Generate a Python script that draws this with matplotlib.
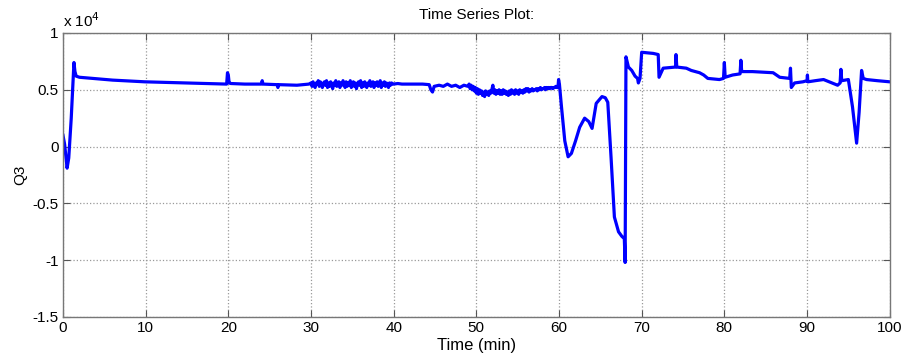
import numpy as np
import matplotlib
matplotlib.use('Agg')
import matplotlib.pyplot as plt
from matplotlib.ticker import FuncFormatter

plt.rcParams['font.family'] = ['Liberation Sans', 'DejaVu Sans']

# Q3 trace, values in units of 1e4
t_start = [0.0, 0.2, 0.5, 0.7, 1.0, 1.33, 1.45, 1.6, 2.0, 3.6, 6.0, 9.9, 15.0,
           19.8, 19.9, 20.0, 20.1, 20.3, 22.0, 24.0, 24.1, 24.2, 25.9, 26.0,
           26.1, 28.3, 29.75]
q_start = [0.10, 0.02, -0.19, -0.10, 0.25, 0.74, 0.66, 0.62, 0.61, 0.60, 0.585,
           0.57, 0.56, 0.55, 0.65, 0.63, 0.56, 0.555, 0.55, 0.55, 0.58, 0.55,
           0.545, 0.52, 0.545, 0.54, 0.55]

t_noisy1 = list(np.arange(30.0, 40.001, 0.125))
q_noisy1 = [0.56, 0.53, 0.57, 0.54, 0.52, 0.56, 0.55, 0.58, 0.53, 0.57, 0.56, 0.52, 0.55, 0.57, 0.54, 0.58, 0.52, 0.56, 0.53, 0.57,
            0.55, 0.51, 0.56, 0.54, 0.58, 0.53, 0.55, 0.57, 0.52, 0.56, 0.54, 0.58, 0.55, 0.52, 0.57, 0.53, 0.56, 0.54, 0.58, 0.52,
            0.55, 0.57, 0.53, 0.56, 0.51, 0.55, 0.57, 0.54, 0.58, 0.52, 0.56, 0.53, 0.57, 0.55, 0.52, 0.56, 0.54, 0.58, 0.53, 0.55,
            0.57, 0.52, 0.56, 0.54, 0.57, 0.53, 0.55, 0.58, 0.52, 0.56, 0.54, 0.57, 0.53, 0.56, 0.55, 0.52, 0.56, 0.54, 0.56, 0.55, 0.55]

t_mid = [40.5, 41.0, 42.0, 43.0, 43.5, 44.3, 44.5, 44.7, 44.9, 45.5, 46.0,
         46.5, 47.0, 47.5, 48.0, 48.5, 49.0]
q_mid = [0.555, 0.55, 0.55, 0.55, 0.55, 0.545, 0.50, 0.48, 0.53, 0.54, 0.53,
         0.55, 0.53, 0.54, 0.52, 0.54, 0.53]

t_noisy2 = list(np.arange(49.125, 59.876, 0.125))
q_noisy2 = [0.55, 0.51, 0.54, 0.50, 0.53, 0.49, 0.52, 0.47,
            0.51, 0.46, 0.50, 0.47, 0.49, 0.45, 0.48, 0.44,
            0.49, 0.46, 0.48, 0.45, 0.49, 0.47, 0.50, 0.54,
            0.47, 0.50, 0.46, 0.49, 0.47, 0.50, 0.46, 0.49,
            0.46, 0.50, 0.47, 0.49, 0.46, 0.48, 0.45, 0.49,
            0.46, 0.50, 0.47, 0.49, 0.46, 0.50, 0.47, 0.49,
            0.46, 0.50, 0.48, 0.49, 0.47, 0.50, 0.48, 0.51,
            0.49, 0.51, 0.48, 0.50, 0.49, 0.51, 0.49, 0.50,
            0.50, 0.51, 0.49, 0.51, 0.50, 0.52, 0.50, 0.51,
            0.51, 0.52, 0.50, 0.52, 0.51, 0.52, 0.51, 0.52,
            0.52, 0.51, 0.52, 0.52, 0.53, 0.52, 0.52]

t_end = [59.95, 60.05, 60.3, 60.7, 61.1, 61.5, 62.0, 62.5, 63.1, 63.6, 64.0,
         64.5, 65.2, 65.6, 65.9, 66.3, 66.7, 67.2, 67.6, 67.9, 68.0, 68.1,
         68.4, 68.8, 69.2, 69.5, 69.6, 69.8, 70.0, 71.4, 72.0, 72.1, 72.6,
         74.1, 74.15, 74.25, 75.4, 76.0, 77.0, 77.5, 78.0, 79.4, 79.9, 80.0,
         80.1, 81.0, 81.9, 82.0, 82.1, 83.4, 85.9, 86.7, 87.9, 88.0, 88.1,
         88.5, 89.5, 90.0, 90.05, 90.1, 91.0, 92.0, 93.0, 93.7, 94.0, 94.1,
         94.2, 95.0, 95.5, 96.0, 96.3, 96.6, 96.8, 97.2, 98.5, 100.0]
q_end = [0.59, 0.55, 0.35, 0.05, -0.09, -0.06, 0.05, 0.17, 0.25, 0.22, 0.16,
         0.38, 0.44, 0.43, 0.39, -0.10, -0.62, -0.75, -0.79, -0.81, -1.02, 0.79,
         0.70, 0.67, 0.62, 0.60, 0.56, 0.60, 0.83, 0.82, 0.81, 0.61, 0.69,
         0.70, 0.81, 0.70, 0.69, 0.67, 0.65, 0.63, 0.60, 0.59, 0.60, 0.74,
         0.61, 0.63, 0.64, 0.76, 0.66, 0.66, 0.65, 0.61, 0.60, 0.69, 0.52,
         0.56, 0.57, 0.58, 0.63, 0.57, 0.58, 0.59, 0.56, 0.54, 0.56, 0.68,
         0.58, 0.59, 0.35, 0.03, 0.30, 0.67, 0.60, 0.59, 0.58, 0.57]

time_min = np.array(t_start + t_noisy1 + t_mid + t_noisy2 + t_end)
q3 = np.array(q_start + q_noisy1 + q_mid + q_noisy2 + q_end) * 1e4

yticks = [-1.5e4, -1e4, -0.5e4, 0, 0.5e4, 1e4]
xticks = list(range(0, 101, 10))

fig = plt.figure(figsize=(9.06, 3.56), dpi=100)
ax = fig.add_axes([0.0695, 0.1096, 0.9125, 0.7978])

ax.plot(time_min, q3, color='#0000ff', linewidth=2.3)

ax.set_xlim(0, 100)
ax.set_ylim(-1.5e4, 1e4)
ax.set_xticks(xticks)
ax.set_yticks(yticks)
ax.yaxis.set_major_formatter(FuncFormatter(lambda v, p: f'{v / 1e4:g}'))
ax.tick_params(direction='in', top=True, right=True, length=5, labelsize=11,
               color='#555555', pad=3)
ax.grid(True, linestyle=':', color='#999999', linewidth=0.9)
for s in ax.spines.values():
    s.set_color('#777777')
    s.set_linewidth(1.0)

ax.text(0.0, 1.01, r'x 10$^{4}$', transform=ax.transAxes, fontsize=11,
        ha='left', va='bottom')
ax.set_title('Time Series Plot:', fontsize=11, pad=10)
ax.set_xlabel('Time (min)', fontsize=12, labelpad=2)
ax.set_ylabel('Q3', fontsize=11, labelpad=4)

fig.savefig('out.png', dpi=100)
